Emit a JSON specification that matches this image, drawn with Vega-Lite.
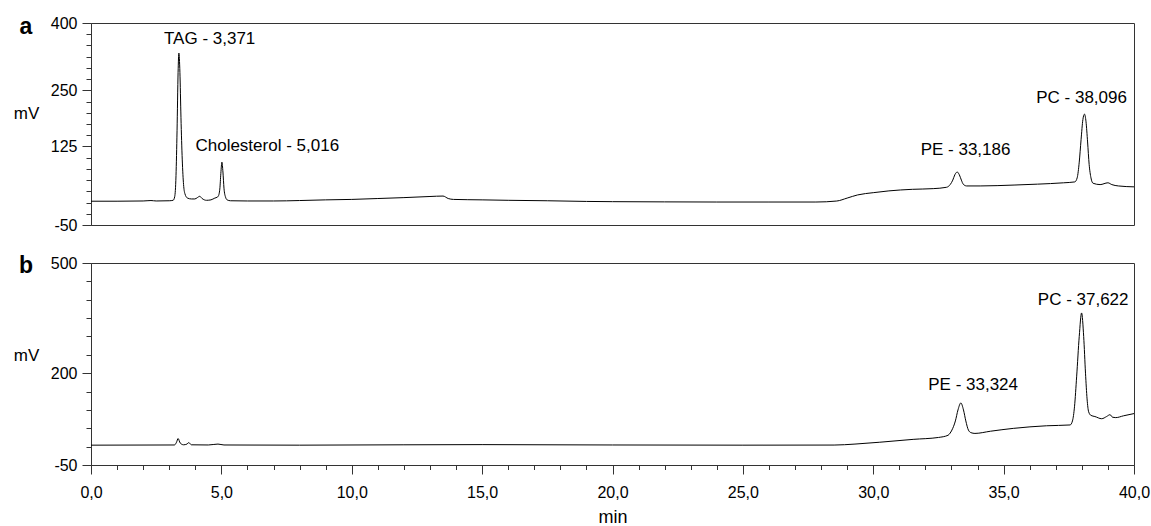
{
  "$schema": "https://vega.github.io/schema/vega-lite/v6.json",
  "padding": {"left": 12, "top": 14, "right": 0, "bottom": 0},
  "spacing": 38,
  "bounds": "flush",
  "config": {
    "font": "Liberation Sans",
    "view": {"stroke": "#333", "strokeWidth": 1},
    "axis": {"domainColor": "#333", "tickColor": "#333", "labelColor": "#000", "titleColor": "#000", "grid": false, "labelFont": "Liberation Sans", "labelFontSize": 16, "titleFont": "Liberation Sans", "titleFontWeight": "normal", "labelOverlap": false, "labelFlush": false, "tickCount": 100}
  },
  "datasets": {
    "a": [
      {"t": 0.0, "v": 3}, {"t": 1.0, "v": 3}, {"t": 2.0, "v": 3.5}, {"t": 2.3, "v": 4.5}, {"t": 2.5, "v": 3.5}, {"t": 3.0, "v": 4},
      {"t": 3.15, "v": 5}, {"t": 3.21, "v": 13}, {"t": 3.26, "v": 60}, {"t": 3.3, "v": 160}, {"t": 3.34, "v": 290}, {"t": 3.37, "v": 333},
      {"t": 3.41, "v": 290}, {"t": 3.45, "v": 190}, {"t": 3.5, "v": 95}, {"t": 3.55, "v": 40}, {"t": 3.6, "v": 20}, {"t": 3.7, "v": 10},
      {"t": 3.85, "v": 8}, {"t": 3.98, "v": 8}, {"t": 4.08, "v": 11}, {"t": 4.17, "v": 14}, {"t": 4.26, "v": 9}, {"t": 4.43, "v": 5},
      {"t": 4.6, "v": 6}, {"t": 4.75, "v": 10}, {"t": 4.84, "v": 12}, {"t": 4.88, "v": 14}, {"t": 4.94, "v": 30}, {"t": 4.98, "v": 65},
      {"t": 5.02, "v": 90}, {"t": 5.06, "v": 68}, {"t": 5.1, "v": 32}, {"t": 5.16, "v": 12}, {"t": 5.22, "v": 6}, {"t": 5.35, "v": 4},
      {"t": 6.0, "v": 3.5}, {"t": 7.0, "v": 3.5}, {"t": 8.0, "v": 4.5}, {"t": 9.0, "v": 6}, {"t": 10.0, "v": 7}, {"t": 11.0, "v": 9},
      {"t": 12.0, "v": 11}, {"t": 13.0, "v": 13.5}, {"t": 13.5, "v": 14.5}, {"t": 13.7, "v": 9}, {"t": 13.9, "v": 7}, {"t": 15.0, "v": 6},
      {"t": 16.0, "v": 5}, {"t": 17.5, "v": 4}, {"t": 19.0, "v": 2.5}, {"t": 20.0, "v": 2}, {"t": 22.0, "v": 1.5}, {"t": 24.0, "v": 1.2},
      {"t": 26.0, "v": 1.2}, {"t": 27.8, "v": 1.2}, {"t": 28.6, "v": 3.4}, {"t": 29.0, "v": 10}, {"t": 29.4, "v": 17}, {"t": 30.0, "v": 22},
      {"t": 30.6, "v": 26}, {"t": 31.5, "v": 29.5}, {"t": 32.3, "v": 31}, {"t": 32.81, "v": 34}, {"t": 32.95, "v": 40}, {"t": 33.05, "v": 50},
      {"t": 33.13, "v": 62}, {"t": 33.22, "v": 68}, {"t": 33.3, "v": 62}, {"t": 33.38, "v": 50}, {"t": 33.45, "v": 41}, {"t": 33.58, "v": 37},
      {"t": 34.1, "v": 37}, {"t": 35.4, "v": 39}, {"t": 36.3, "v": 41}, {"t": 37.3, "v": 44}, {"t": 37.73, "v": 46}, {"t": 37.82, "v": 55},
      {"t": 37.9, "v": 90}, {"t": 37.97, "v": 140}, {"t": 38.04, "v": 185}, {"t": 38.1, "v": 197}, {"t": 38.16, "v": 180}, {"t": 38.22, "v": 135},
      {"t": 38.28, "v": 85}, {"t": 38.35, "v": 55}, {"t": 38.43, "v": 43}, {"t": 38.7, "v": 40}, {"t": 39.0, "v": 44}, {"t": 39.15, "v": 40},
      {"t": 39.4, "v": 37}, {"t": 40.0, "v": 35}
    ],
    "b": [
      {"t": 0.0, "v": 4}, {"t": 3.2, "v": 4.5}, {"t": 3.28, "v": 12}, {"t": 3.34, "v": 22}, {"t": 3.42, "v": 10}, {"t": 3.55, "v": 5},
      {"t": 3.68, "v": 7}, {"t": 3.75, "v": 11}, {"t": 3.85, "v": 5}, {"t": 4.5, "v": 4.5}, {"t": 4.87, "v": 7}, {"t": 5.1, "v": 4.5},
      {"t": 8.0, "v": 4}, {"t": 12.0, "v": 5}, {"t": 15.0, "v": 5.5}, {"t": 20.0, "v": 4.5}, {"t": 25.0, "v": 4}, {"t": 28.5, "v": 4.3},
      {"t": 29.3, "v": 7}, {"t": 30.25, "v": 12}, {"t": 31.53, "v": 19.8}, {"t": 32.5, "v": 25}, {"t": 32.87, "v": 31}, {"t": 32.95, "v": 37},
      {"t": 33.05, "v": 50}, {"t": 33.15, "v": 70}, {"t": 33.25, "v": 100}, {"t": 33.36, "v": 119}, {"t": 33.46, "v": 100}, {"t": 33.55, "v": 70},
      {"t": 33.65, "v": 45}, {"t": 33.75, "v": 38}, {"t": 33.9, "v": 36}, {"t": 34.5, "v": 42}, {"t": 35.37, "v": 49.7}, {"t": 36.65, "v": 56.8},
      {"t": 37.55, "v": 59}, {"t": 37.64, "v": 70}, {"t": 37.72, "v": 110}, {"t": 37.8, "v": 190}, {"t": 37.9, "v": 300}, {"t": 37.99, "v": 364},
      {"t": 38.07, "v": 300}, {"t": 38.14, "v": 200}, {"t": 38.2, "v": 130}, {"t": 38.26, "v": 95}, {"t": 38.35, "v": 85}, {"t": 38.5, "v": 82},
      {"t": 38.76, "v": 76}, {"t": 38.95, "v": 82}, {"t": 39.08, "v": 87}, {"t": 39.18, "v": 80}, {"t": 39.3, "v": 79}, {"t": 39.6, "v": 84},
      {"t": 40.0, "v": 90}
    ],
    "la": [
      {"t": 4.55, "v": 364, "label": "TAG - 3,371"},
      {"t": 6.76, "v": 125, "label": "Cholesterol - 5,016"},
      {"t": 33.54, "v": 117, "label": "PE - 33,186"},
      {"t": 37.99, "v": 234, "label": "PC - 38,096"}
    ],
    "lb": [
      {"t": 33.83, "v": 169, "label": "PE - 33,324"},
      {"t": 38.05, "v": 400, "label": "PC - 37,622"}
    ]
  },
  "vconcat": [
    {
      "width": 1043,
      "height": 202,
      "title": {"text": "a", "anchor": "start", "frame": "group", "align": "center", "dx": -65, "dy": 42, "offset": 0, "baseline": "alphabetic", "fontSize": 23, "fontWeight": "bold", "font": "Liberation Sans", "color": "#000"},
      "layer": [
        {
          "data": {"name": "a"},
          "mark": {"type": "line", "color": "#000", "strokeWidth": 1, "interpolate": "monotone"},
          "encoding": {
            "x": {"field": "t", "type": "quantitative", "scale": {"domain": [0, 40], "nice": false, "zero": false}, "axis": null},
            "y": {"field": "v", "type": "quantitative", "scale": {"domain": [-50, 400], "nice": false, "zero": false},
              "axis": {
                "values": [-50, -25, 0, 25, 50, 75, 100, 125, 150, 175, 200, 225, 250, 275, 300, 325, 350, 375, 400],
                "tickCount": 100,
                "labelExpr": "(datum.value == 400 || datum.value == 250 || datum.value == 125 || datum.value == -50) ? ('' + datum.value) : ''",
                "tickSize": {"condition": {"test": "datum.value == 400 || datum.value == 250 || datum.value == 125 || datum.value == -50", "value": 9}, "value": 5},
                "labelPadding": 5, "labelOverlap": false, "labelBound": false, "labelFlush": false,
                "title": "mV", "titleAngle": 0, "titleAlign": "center", "titleBaseline": "middle", "titleX": -65, "titleY": 90, "titleFontSize": 17
              }
            }
          }
        },
        {
          "data": {"name": "la"},
          "mark": {"type": "text", "fontSize": 17, "align": "center", "baseline": "middle", "color": "#000", "font": "Liberation Sans"},
          "encoding": {
            "x": {"field": "t", "type": "quantitative"},
            "y": {"field": "v", "type": "quantitative"},
            "text": {"field": "label"}
          }
        }
      ]
    },
    {
      "width": 1043,
      "height": 202,
      "title": {"text": "b", "anchor": "start", "frame": "group", "align": "center", "dx": -65, "dy": 41, "offset": 0, "baseline": "alphabetic", "fontSize": 23, "fontWeight": "bold", "font": "Liberation Sans", "color": "#000"},
      "layer": [
        {
          "data": {"name": "b"},
          "mark": {"type": "line", "color": "#000", "strokeWidth": 1, "interpolate": "monotone"},
          "encoding": {
            "x": {"field": "t", "type": "quantitative", "scale": {"domain": [0, 40], "nice": false, "zero": false},
              "axis": {
                "values": [0,1,2,3,4,5,6,7,8,9,10,11,12,13,14,15,16,17,18,19,20,21,22,23,24,25,26,27,28,29,30,31,32,33,34,35,36,37,38,39,40],
                "tickCount": 100,
                "labelExpr": "(datum.value % 5 == 0) ? replace(format(datum.value, '.1f'), '.', ',') : ''",
                "tickSize": {"condition": {"test": "datum.value % 5 == 0", "value": 9}, "value": 4.5},
                "labelPadding": 10, "labelOverlap": false, "labelBound": false, "labelFlush": false,
                "title": "min", "titleFontSize": 18, "titleBaseline": "alphabetic", "titleY": 57
              }
            },
            "y": {"field": "v", "type": "quantitative", "scale": {"domain": [-50, 500], "nice": false, "zero": false},
              "axis": {
                "values": [-50, 0, 50, 100, 150, 200, 250, 300, 350, 400, 450, 500],
                "tickCount": 100,
                "labelExpr": "(datum.value == 500 || datum.value == 200 || datum.value == -50) ? ('' + datum.value) : ''",
                "tickSize": {"condition": {"test": "datum.value == 500 || datum.value == 200 || datum.value == -50", "value": 9}, "value": 5},
                "labelPadding": 5, "labelOverlap": false, "labelBound": false, "labelFlush": false,
                "title": "mV", "titleAngle": 0, "titleAlign": "center", "titleBaseline": "middle", "titleX": -65, "titleY": 92, "titleFontSize": 17
              }
            }
          }
        },
        {
          "data": {"name": "lb"},
          "mark": {"type": "text", "fontSize": 17, "align": "center", "baseline": "middle", "color": "#000", "font": "Liberation Sans"},
          "encoding": {
            "x": {"field": "t", "type": "quantitative"},
            "y": {"field": "v", "type": "quantitative"},
            "text": {"field": "label"}
          }
        }
      ]
    }
  ]
}
